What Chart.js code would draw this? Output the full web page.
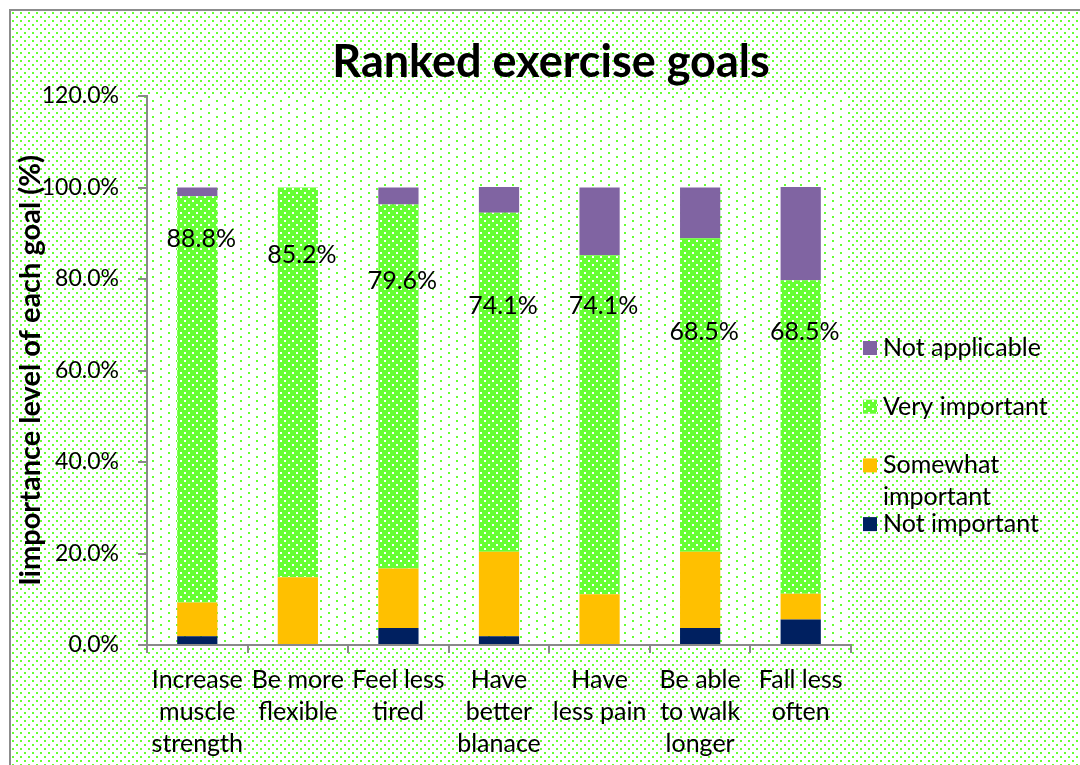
<!DOCTYPE html>
<html>
<head>
<meta charset="utf-8">
<script src="https://cdn.jsdelivr.net/npm/chart.js@4/dist/chart.umd.min.js"></script>
<style>
  html, body { margin: 0; padding: 0; background: #fff; }
  #wrap { width: 1080px; height: 765px; }
</style>
</head>
<body>
<div id="wrap"><canvas id="c" width="1080" height="765"></canvas></div>
<script>
// ---- Data ----
const chartTitle = 'Ranked exercise goals';
const yAxisTitle = 'Iimportance level of each goal (%)';
const categories = [
  ['Increase', 'muscle', 'strength'],
  ['Be more', 'flexible'],
  ['Feel less', 'tired'],
  ['Have', 'better', 'blanace'],
  ['Have', 'less pain'],
  ['Be able', 'to walk', 'longer'],
  ['Fall less', 'often']
];
const seriesNames = ['Not important', 'Somewhat important', 'Very important', 'Not applicable'];
const notImportant      = [1.9, 0,    3.7,  1.9,  0,    3.7,  5.6];
const somewhatImportant = [7.4, 14.8, 13.0, 18.5, 11.1, 16.7, 5.6];
const veryImportant     = [88.8, 85.2, 79.6, 74.1, 74.1, 68.5, 68.5];
const notApplicable     = [1.9, 0,    3.7,  5.6,  14.8, 11.1, 20.4];
const yTickMax = 120;
const yTickStep = 20;

// ---- Styling ----
const FONT = 'Lato, "Open Sans", sans-serif';
const GREEN = '#66FF33';
const canvas = document.getElementById('c');
const ctx = canvas.getContext('2d');

function makePattern(bg, dot, w, h, dots, size) {
  const c = document.createElement('canvas');
  c.width = w; c.height = h;
  const x = c.getContext('2d');
  if (bg) { x.fillStyle = bg; x.fillRect(0, 0, w, h); }
  x.fillStyle = dot;
  dots.forEach(([a, b]) => x.fillRect(a, b, size, size));
  return ctx.createPattern(c, 'repeat');
}
const outerPattern = makePattern('#ffffff', GREEN, 8, 8, [[0, 0], [4, 4]], 2);
const plotPattern  = makePattern('#ffffff', GREEN, 16, 8, [[0, 0], [8, 4]], 2);
const barPattern   = makePattern(GREEN, '#ffffff', 8, 8, [[0, 0], [4, 4]], 2);

const colors = ['#002060', '#FFC000', barPattern, '#8064A2'];
const seriesData = [notImportant, somewhatImportant, veryImportant, notApplicable];

Chart.defaults.font.family = FONT;
Chart.defaults.color = '#000';

const backgroundPlugin = {
  id: 'bg',
  beforeDraw(chart) {
    const c = chart.ctx, a = chart.chartArea;
    c.save();
    c.fillStyle = '#fff';
    c.fillRect(0, 0, chart.width, chart.height);
    c.fillStyle = outerPattern;
    c.fillRect(11, 11, chart.width - 11, chart.height - 11);
    c.fillStyle = '#fff';
    c.fillRect(a.left, a.top, a.right - a.left, a.bottom - a.top);
    c.fillStyle = plotPattern;
    c.fillRect(a.left, a.top, a.right - a.left, a.bottom - a.top);
    c.strokeStyle = '#8c8c8c';
    c.lineWidth = 2;
    c.beginPath();
    c.moveTo(10, chart.height);
    c.lineTo(10, 10);
    c.lineTo(chart.width, 10);
    c.stroke();
    c.restore();
  }
};

const titlePlugin = {
  id: 'ctitle',
  afterDraw(chart) {
    const c = chart.ctx;
    c.save();
    c.font = 'bold 45px ' + FONT;
    c.fillStyle = '#000';
    c.textAlign = 'center';
    c.textBaseline = 'middle';
    c.fillText(chartTitle, chart.width / 2 + 11, 62);
    c.restore();
  }
};

const valueLabelPlugin = {
  id: 'vlabels',
  afterDatasetsDraw(chart) {
    const c = chart.ctx;
    const ds = 2;
    const meta = chart.getDatasetMeta(ds);
    const yScale = chart.scales.y;
    c.save();
    c.font = '25px ' + FONT;
    c.fillStyle = '#000';
    c.textAlign = 'center';
    c.textBaseline = 'middle';
    meta.data.forEach((bar, i) => {
      const v = chart.data.datasets[ds].data[i];
      c.fillText(v.toFixed(1) + '%', bar.x + 4, yScale.getPixelForValue(v));
    });
    c.restore();
  }
};

const legendPlugin = {
  id: 'clegend',
  afterDraw(chart) {
    const c = chart.ctx;
    const a = chart.chartArea;
    const boxX = a.right + 12, textX = a.right + 32;
    const maxW = chart.width - textX - 8;
    let y = 348;
    const step = 58.7, lineH = 32;
    c.save();
    c.font = '25px ' + FONT;
    c.textBaseline = 'middle';
    const order = chart.data.datasets.map((d, i) => i).reverse();
    order.forEach(i => {
      const d = chart.data.datasets[i];
      c.fillStyle = d.backgroundColor;
      c.fillRect(boxX, y - 7, 14, 14);
      c.fillStyle = '#000';
      const words = d.label.split(' ');
      const lines = [];
      let cur = '';
      words.forEach(w => {
        const t = cur ? cur + ' ' + w : w;
        if (c.measureText(t).width > maxW && cur) { lines.push(cur); cur = w; }
        else cur = t;
      });
      lines.push(cur);
      lines.forEach((ln, k) => c.fillText(ln, textX, y + k * lineH));
      y += step;
    });
    c.restore();
  }
};

new Chart(ctx, {
  type: 'bar',
  data: {
    labels: categories,
    datasets: seriesNames.map((name, i) => ({
      label: name,
      data: seriesData[i],
      backgroundColor: colors[i],
      borderWidth: 0,
      barPercentage: 0.4,
      categoryPercentage: 1.0
    }))
  },
  options: {
    responsive: false,
    animation: false,
    devicePixelRatio: 1,
    layout: { padding: { left: 12, right: 229, top: 96, bottom: 0 } },
    plugins: {
      legend: { display: false },
      title: { display: false },
      tooltip: { enabled: false }
    },
    scales: {
      x: {
        stacked: true,
        offset: true,
        grid: { display: true, drawOnChartArea: false, drawTicks: true, tickLength: 8, offset: true, color: '#898989', lineWidth: 2 },
        border: { display: true, color: '#898989', width: 2 },
        ticks: { font: { size: 25, lineHeight: 1.28 }, padding: 11, maxRotation: 0, autoSkip: false, color: '#000' },
        afterFit(s) { s.height = 120; }
      },
      y: {
        stacked: true,
        min: 0,
        max: yTickMax,
        grid: { display: true, drawOnChartArea: false, drawTicks: true, tickLength: 9, color: '#898989', lineWidth: 2 },
        border: { display: true, color: '#898989', width: 2 },
        ticks: {
          stepSize: yTickStep,
          font: { size: 23 },
          padding: 19,
          color: '#000',
          callback: v => Number(v).toFixed(1) + '%'
        },
        title: {
          display: true,
          text: yAxisTitle,
          font: { size: 29, weight: 'bold', lineHeight: 1.2 },
          color: '#000',
          padding: { top: 1, bottom: 0 }
        },
        afterFit(s) { s.width = 135; }
      }
    }
  },
  plugins: [backgroundPlugin, valueLabelPlugin, legendPlugin, titlePlugin]
});
</script>
</body>
</html>
